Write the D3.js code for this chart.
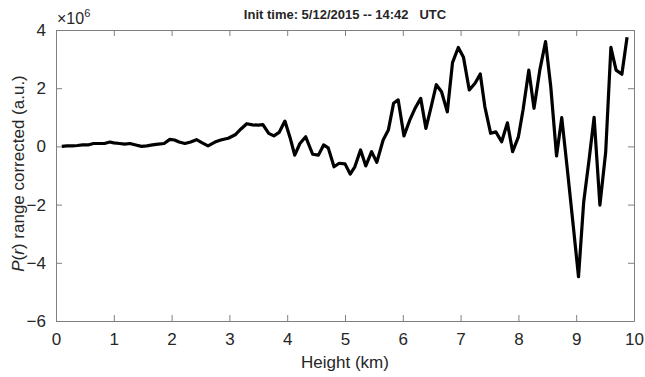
<!DOCTYPE html>
<html lang="en">
<head>
<meta charset="UTF-8"/>
<title>P(r) range corrected</title>
<script src="https://d3js.org/d3.v7.min.js"></script>
<style>
  body { margin: 0; background: #fff; }
  text { font-family: "Liberation Sans", Arial, sans-serif; fill: #262626; }
</style>
</head>
<body>
<script>
    //chart size and plot box
    var w = 645;
    var h = 377;
    var margin = {left: 56, right: 11, top: 30, bottom: 56};

    //data (height in km, signal in 1e6 a.u.)
    var heights = [0.1, 0.19, 0.28, 0.37, 0.46, 0.55, 0.65, 0.74, 0.84, 0.93,
        1.0, 1.1, 1.19, 1.28, 1.38, 1.48, 1.57, 1.67, 1.77, 1.87,
        1.97, 2.05, 2.13, 2.23, 2.33, 2.43, 2.53, 2.63, 2.75, 2.85,
        2.98, 3.1, 3.2, 3.3, 3.4, 3.5, 3.58, 3.68, 3.77, 3.86,
        3.96, 4.05, 4.13, 4.22, 4.32, 4.44, 4.54, 4.63, 4.71, 4.81,
        4.9, 5.0, 5.09, 5.17, 5.27, 5.36, 5.46, 5.55, 5.66, 5.75,
        5.84, 5.92, 6.02, 6.12, 6.21, 6.31, 6.4, 6.49, 6.58, 6.67,
        6.77, 6.86, 6.96, 7.05, 7.15, 7.25, 7.34, 7.42, 7.52, 7.61,
        7.71, 7.81, 7.9, 8.0, 8.08, 8.18, 8.27, 8.37, 8.47, 8.56,
        8.66, 8.75, 8.85, 8.95, 9.04, 9.13, 9.22, 9.31, 9.41, 9.51,
        9.6, 9.69, 9.79, 9.88];
    var signal = [0.0, 0.02, 0.02, 0.03, 0.05, 0.05, 0.1, 0.1, 0.1, 0.15,
        0.12, 0.1, 0.08, 0.1, 0.05, 0.0, 0.02, 0.05, 0.08, 0.1,
        0.24, 0.22, 0.15, 0.1, 0.15, 0.23, 0.12, 0.02, 0.15, 0.22,
        0.28, 0.4, 0.6, 0.78, 0.74, 0.73, 0.75, 0.45, 0.36, 0.48,
        0.87, 0.3, -0.3, 0.1, 0.33, -0.27, -0.3, 0.05, -0.05, -0.7,
        -0.58, -0.6, -0.95, -0.7, -0.12, -0.67, -0.18, -0.55, 0.22, 0.56,
        1.48, 1.6, 0.36, 0.9, 1.3, 1.65, 0.62, 1.36, 2.12, 1.88,
        1.19, 2.88, 3.4, 3.06, 1.94, 2.17, 2.49, 1.36, 0.45, 0.5,
        0.16, 0.81, -0.18, 0.33, 1.25, 2.62, 1.31, 2.62, 3.6, 2.05,
        -0.33, 0.99, -0.85, -2.75, -4.48, -1.9, -0.5, 1.0, -2.02, -0.2,
        3.4, 2.62, 2.48, 3.75];
    var xTicks = [0, 1, 2, 3, 4, 5, 6, 7, 8, 9, 10];
    var yTicks = [-6, -4, -2, 0, 2, 4];

    var dataset = heights.map(function (d, i) { return [d, signal[i]]; });

    //scales
    var xScale = d3.scaleLinear()
        .domain([0, 10])
        .range([margin.left, w - margin.right]);

    var yScale = d3.scaleLinear()
        .domain([-6, 4])
        .range([h - margin.bottom, margin.top]);

    var svg = d3.select("body")
        .append("svg")
        .attr("width", w)
        .attr("height", h);

    //line
    var line = d3.line()
        .x(function (d) { return xScale(d[0]); })
        .y(function (d) { return yScale(d[1]); });

    svg.append("path")
        .datum(dataset)
        .attr("d", line)
        .attr("fill", "none")
        .attr("stroke", "#000")
        .attr("stroke-width", 3.2)
        .attr("stroke-linejoin", "round");

    //axes, ticks pointing inward, box on all sides
    var axisColor = "#808080";

    var xAxis = d3.axisBottom(xScale).tickValues(xTicks).tickSizeInner(-6).tickSizeOuter(0).tickPadding(12);
    var gx = svg.append("g")
        .attr("transform", "translate(0," + (h - margin.bottom) + ")")
        .call(xAxis);

    var xTop = d3.axisTop(xScale).tickValues(xTicks).tickSizeInner(-6).tickSizeOuter(0).tickFormat("");
    var gxt = svg.append("g")
        .attr("transform", "translate(0," + margin.top + ")")
        .call(xTop);

    var yAxis = d3.axisLeft(yScale).tickValues(yTicks).tickSizeInner(-6).tickSizeOuter(0).tickPadding(10);
    var gy = svg.append("g")
        .attr("transform", "translate(" + margin.left + ",0)")
        .call(yAxis);

    var yRight = d3.axisRight(yScale).tickValues(yTicks).tickSizeInner(-6).tickSizeOuter(0).tickFormat("");
    var gyr = svg.append("g")
        .attr("transform", "translate(" + (w - margin.right) + ",0)")
        .call(yRight);

    [gx, gxt, gy, gyr].forEach(function (g) {
        g.selectAll("path, line").attr("stroke", axisColor).attr("stroke-width", 1);
        g.selectAll("text").attr("font-size", "17px").attr("fill", "#262626");
    });

    //exponent label
    var ex = svg.append("text")
        .attr("x", margin.left + 1)
        .attr("y", 24)
        .attr("font-size", "16px");
    ex.append("tspan").text("\u00d710");
    ex.append("tspan").attr("dy", -7).attr("font-size", "11px").text("6");

    //title
    svg.append("text")
        .attr("x", 345)
        .attr("y", 19)
        .attr("text-anchor", "middle")
        .attr("font-size", "13px")
        .attr("font-weight", "bold")
        .attr("xml:space", "preserve")
        .text("Init time: 5/12/2015 -- 14:42   UTC");

    //x axis label
    svg.append("text")
        .attr("x", (margin.left + w - margin.right) / 2)
        .attr("y", 368)
        .attr("text-anchor", "middle")
        .attr("font-size", "17px")
        .text("Height (km)");

    //y axis label
    var yl = svg.append("text")
        .attr("transform", "translate(24," + ((margin.top + h - margin.bottom) / 2 - 2) + ") rotate(-90)")
        .attr("text-anchor", "middle")
        .attr("font-size", "17px");
    yl.append("tspan").attr("font-style", "italic").text("P");
    yl.append("tspan").text("(");
    yl.append("tspan").attr("font-style", "italic").text("r");
    yl.append("tspan").text(") range corrected (a.u.)");
</script>
</body>
</html>
